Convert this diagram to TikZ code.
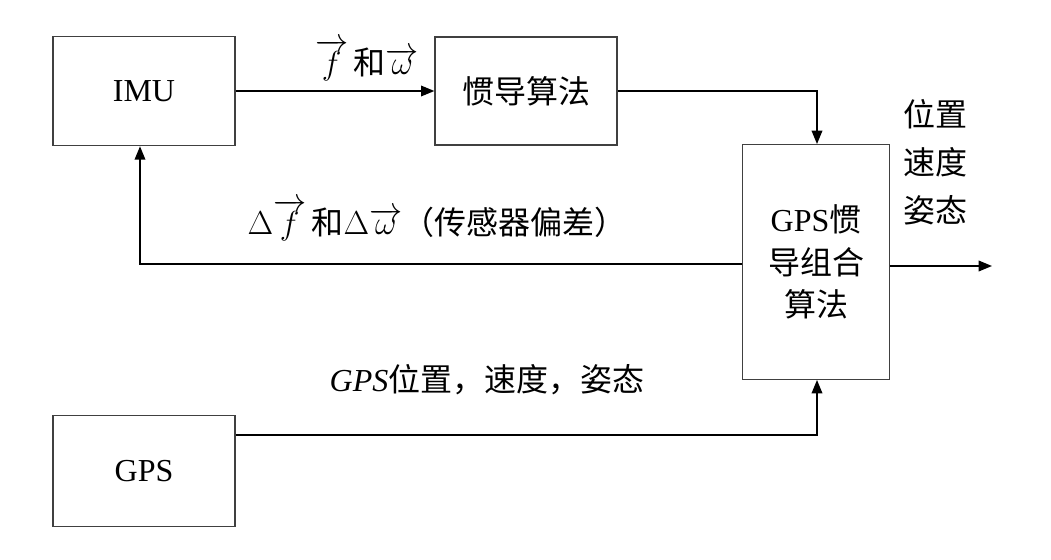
\documentclass[tikz,border=0pt]{standalone}
\usepackage{amsmath}
\usepackage{fontspec}
\setmainfont{Liberation Serif}
\newfontfamily\cjk{Noto Sans CJK SC}
\usetikzlibrary{arrows.meta}
\newcommand{\vecsym}[1]{{\fontsize{28}{32}\selectfont$\overrightarrow{#1}$}}

\begin{document}
\begin{tikzpicture}[x=0.75pt, y=-0.75pt, font=\fontsize{24}{30}\selectfont,
    blockbox/.style={draw=black!75, line width=1pt, inner sep=0pt, align=center},
    link/.style={line width=1pt, -{Triangle[length=10pt, width=8pt]}}]
\useasboundingbox (0,0) rectangle (1051,560);
% blocks
\node[blockbox, minimum width=136.5pt, minimum height=82pt] (imu) at (144, 91) {IMU};
\node[blockbox, minimum width=136.5pt, minimum height=81pt] (ins) at (526, 91) {\cjk 惯导算法};
\node[blockbox, minimum width=110pt, minimum height=176pt] (fuse) at (816, 262)
    {GPS\cjk 惯\\[2pt]\cjk 导组合\\[2pt]\cjk 算法};
\node[blockbox, minimum width=136.5pt, minimum height=83pt] (gps) at (144, 471) {GPS};
% corner and end points
\coordinate (c1) at (817, 91);
\coordinate (c2) at (140, 264);
\coordinate (c3) at (817, 435);
\coordinate (out) at (992, 266);
% connectors
\draw[link] (imu.east |- 0,91) -- (ins.west |- 0,91);
\draw[link] (ins.east |- c1) -- (c1) -- (c1 |- fuse.north);
\draw[link] (fuse.west |- c2) -- (c2) -- (c2 |- imu.south);
\draw[link] (gps.east |- c3) -- (c3) -- (c3 |- fuse.south);
\draw[link] (fuse.east |- out) -- (out);
% labels
\node (lab1) at (367, 60) {\vecsym{f}\,{\cjk 和}\vecsym{\omega}};
\node (lab2) at (437, 220) {$\Delta$\vecsym{f}\,{\cjk 和}$\Delta$\vecsym{\omega}{\cjk （传感器偏差）}};
\node (lab3) at (487, 380) {\textit{GPS}\cjk 位置，速度，姿态};
\node[align=left] (lab4) at (935, 162) {\cjk 位置\\[6pt]\cjk 速度\\[6pt]\cjk 姿态};
\end{tikzpicture}
\end{document}
